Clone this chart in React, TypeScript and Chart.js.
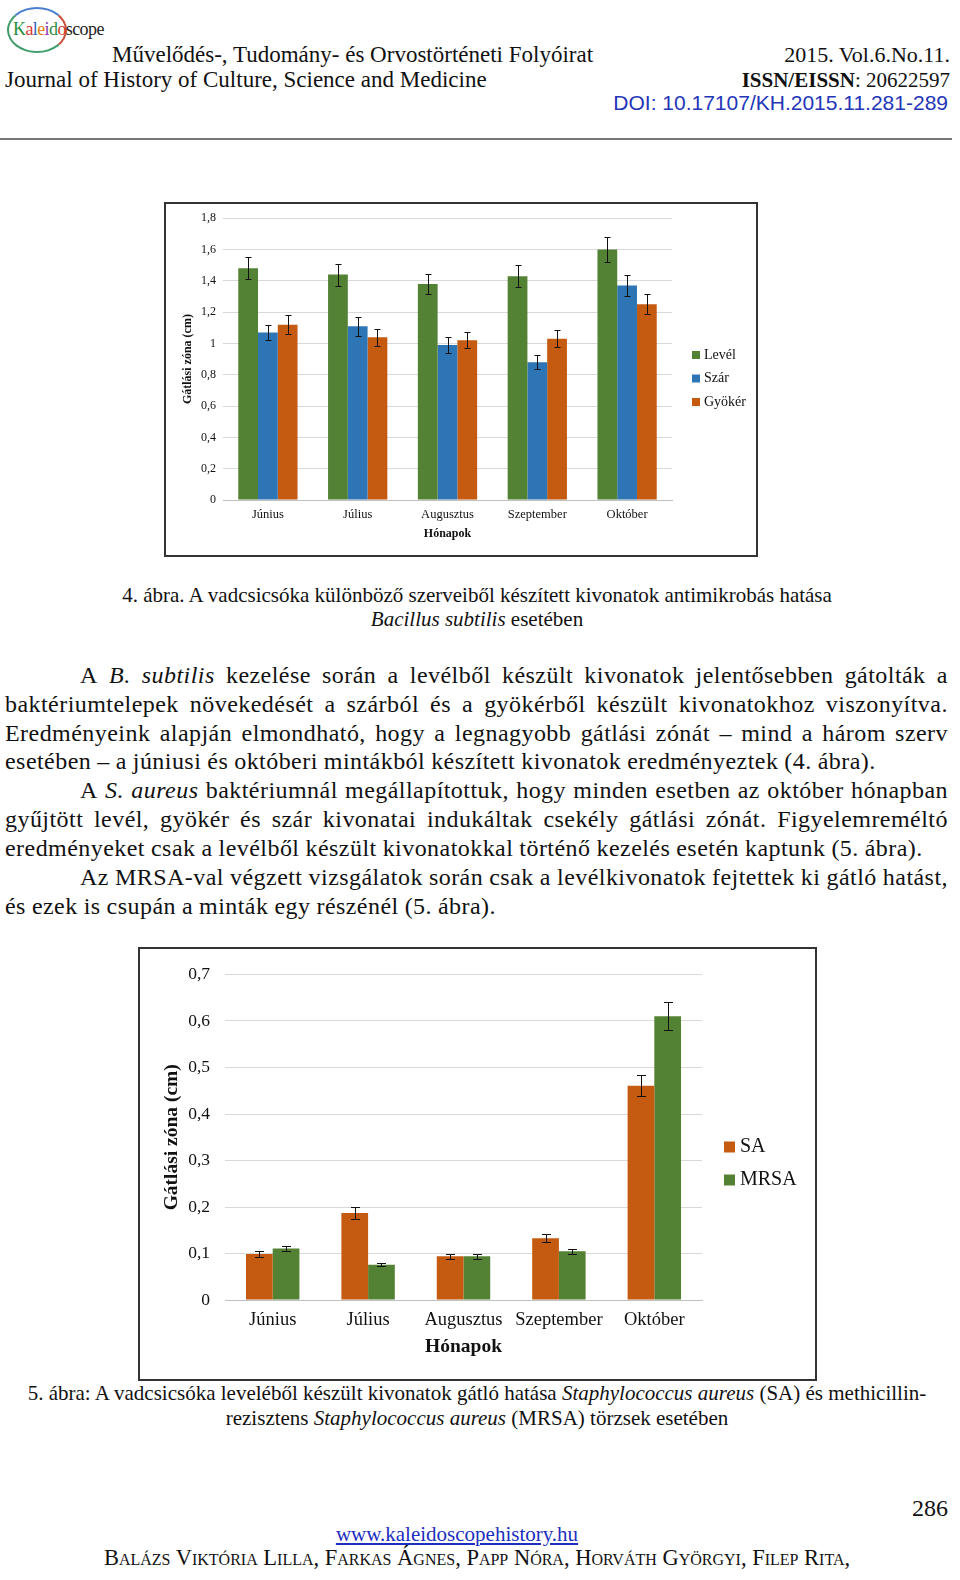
import { useEffect, useRef } from "react";
import { Chart, registerables } from "chart.js";

Chart.register(...registerables);

// --- data ---
const months = ["Június", "Július", "Augusztus", "Szeptember", "Október"];

// 4. ábra (Bacillus subtilis)
const level = [1.48, 1.44, 1.38, 1.43, 1.6];
const levelErr = [0.07, 0.07, 0.065, 0.07, 0.08];
const szar = [1.07, 1.11, 0.99, 0.88, 1.37];
const szarErr = [0.05, 0.06, 0.05, 0.045, 0.07];
const gyoker = [1.12, 1.04, 1.02, 1.03, 1.25];
const gyokerErr = [0.06, 0.055, 0.05, 0.055, 0.065];

// 5. ábra (SA / MRSA)
const sa = [0.099, 0.187, 0.094, 0.133, 0.461];
const saErr = [0.006, 0.012, 0.005, 0.008, 0.022];
const mrsa = [0.111, 0.076, 0.094, 0.105, 0.61];
const mrsaErr = [0.006, 0.003, 0.005, 0.005, 0.03];

const GREEN = "#548235";
const BLUE = "#2e75b6";
const ORANGE = "#c55a11";
const SERIF = "'Liberation Serif', 'Times New Roman', serif";

const comma = (v: number | string) =>
  String(Math.round(Number(v) * 10) / 10).replace(".", ",");

// error bars drawn on top of the bars
const errorBars = {
  id: "errorBars",
  afterDatasetsDraw(chart: any, _args: any, opts: any) {
    const { ctx } = chart;
    const y = chart.scales.y;
    ctx.save();
    ctx.strokeStyle = "#111";
    ctx.lineWidth = 1;
    chart.data.datasets.forEach((ds: any, i: number) => {
      const meta = chart.getDatasetMeta(i);
      meta.data.forEach((bar: any, j: number) => {
        const v = ds.data[j];
        const e = ds.errors[j];
        const top = Math.round(y.getPixelForValue(v + e)) + 0.5;
        const bot = Math.round(y.getPixelForValue(v - e)) + 0.5;
        const x = Math.round(bar.x) + 0.5;
        ctx.beginPath();
        ctx.moveTo(x, top);
        ctx.lineTo(x, bot);
        ctx.moveTo(x - opts.cap, top);
        ctx.lineTo(x + opts.cap, top);
        ctx.moveTo(x - opts.cap, bot);
        ctx.lineTo(x + opts.cap, bot);
        ctx.stroke();
      });
    });
    ctx.restore();
  },
};

// legend at the right, like the Excel original
const sideLegend = {
  id: "sideLegend",
  afterDraw(chart: any, _args: any, opts: any) {
    const { ctx } = chart;
    ctx.save();
    ctx.font = opts.font;
    ctx.textBaseline = "middle";
    chart.data.datasets.forEach((ds: any, i: number) => {
      const y = opts.y + i * opts.gap;
      ctx.fillStyle = ds.backgroundColor;
      ctx.fillRect(opts.x, y - opts.box / 2, opts.box, opts.box);
      ctx.fillStyle = "#111";
      ctx.fillText(ds.label, opts.x + opts.box + opts.space, y);
    });
    ctx.restore();
  },
};

function makeConfig(p: any): any {
  return {
    type: "bar",
    data: { labels: months, datasets: p.datasets },
    plugins: [errorBars, sideLegend],
    options: {
      responsive: false,
      animation: false,
      layout: { padding: { left: 0, top: p.top, right: p.right, bottom: 0 } },
      datasets: {
        bar: { barPercentage: 1, categoryPercentage: p.cat, borderWidth: 0 },
      },
      plugins: {
        legend: { display: false },
        tooltip: { enabled: false },
        errorBars: { cap: p.cap },
        sideLegend: p.legend,
      },
      scales: {
        x: {
          grid: { display: false, drawTicks: false },
          border: { display: true, color: "#bfbfbf" },
          ticks: {
            color: "#111",
            padding: p.xPad,
            font: { family: SERIF, size: p.tick },
          },
          title: {
            display: true,
            text: "Hónapok",
            color: "#111",
            padding: { top: 0, bottom: p.xTitlePad },
            font: { family: SERIF, size: p.title, weight: "bold" },
          },
          afterFit: (s: any) => {
            s.height = p.xHeight;
          },
        },
        y: {
          min: 0,
          max: p.max,
          grid: { color: "#d9d9d9", drawTicks: false },
          border: { display: false },
          ticks: {
            stepSize: p.step,
            color: "#111",
            padding: p.yPad,
            font: { family: SERIF, size: p.ytick },
            callback: (v: number) => comma(v),
          },
          title: {
            display: true,
            text: "Gátlási zóna (cm)",
            color: "#111",
            padding: { top: p.yTitlePad, bottom: 0 },
            font: { family: SERIF, size: p.title, weight: "bold" },
          },
          afterFit: (s: any) => {
            s.width = p.yWidth;
          },
        },
      },
    },
  };
}

function BarPanel({ width, height, config }: { width: number; height: number; config: any }) {
  const canvasRef = useRef<HTMLCanvasElement | null>(null);

  useEffect(() => {
    if (!canvasRef.current) return;
    const chart = new Chart(canvasRef.current, config);
    return () => chart.destroy();
  }, []);

  return (
    <canvas
      ref={canvasRef}
      width={width}
      height={height}
      style={{ width, height, display: "block" }}
    />
  );
}

function Txt(props: any) {
  const { x, y, w, align, size, lh, children, style } = props;
  const line = lh || size * 1.25;
  return (
    <div
      style={{
        position: "absolute",
        left: x,
        top: y - line / 2,
        width: w,
        textAlign: align || "left",
        fontSize: size,
        lineHeight: line + "px",
        fontFamily: SERIF,
        color: "#111",
        whiteSpace: "nowrap",
        ...style,
      }}
    >
      {children}
    </div>
  );
}

// one line of the body text; a word written as *word* is italic
function JLine({ x, y, text, last }: { x: number; y: number; text: string; last?: boolean }) {
  const words = text.split(" ");
  return (
    <div
      style={{
        position: "absolute",
        left: x,
        top: y - 15,
        width: 948 - x,
        height: 30,
        fontSize: 24,
        lineHeight: "30px",
        letterSpacing: 0.45,
        fontFamily: SERIF,
        color: "#111",
        whiteSpace: "nowrap",
        display: "flex",
        justifyContent: last ? "flex-start" : "space-between",
        gap: last ? "0.25em" : 0,
      }}
    >
      {words.map((w, i) =>
        w.startsWith("*") ? (
          <i key={i}>{w.replace(/\*/g, "")}</i>
        ) : (
          <span key={i}>{w}</span>
        )
      )}
    </div>
  );
}

const fig4 = makeConfig({
  datasets: [
    { label: "Levél", data: level, errors: levelErr, backgroundColor: GREEN },
    { label: "Szár", data: szar, errors: szarErr, backgroundColor: BLUE },
    { label: "Gyökér", data: gyoker, errors: gyokerErr, backgroundColor: ORANGE },
  ],
  top: 13,
  right: 84,
  cat: 0.66,
  cap: 3,
  max: 1.8,
  step: 0.2,
  tick: 12.5,
  ytick: 12,
  title: 12,
  xPad: 7,
  xTitlePad: 14,
  xHeight: 55,
  yPad: 7,
  yTitlePad: 15,
  yWidth: 57,
  legend: { x: 526, y: 151, gap: 23.5, box: 8, space: 4, font: `14px ${SERIF}` },
});

const fig5 = makeConfig({
  datasets: [
    { label: "SA", data: sa, errors: saErr, backgroundColor: ORANGE },
    { label: "MRSA", data: mrsa, errors: mrsaErr, backgroundColor: GREEN },
  ],
  top: 18,
  right: 113,
  cat: 0.56,
  cap: 4.5,
  max: 0.7,
  step: 0.1,
  tick: 18.5,
  ytick: 17.5,
  title: 19.5,
  xPad: 9,
  xTitlePad: 20,
  xHeight: 79,
  yPad: 15,
  yTitlePad: 20,
  yWidth: 85,
  legend: { x: 584, y: 198, gap: 33, box: 11, space: 5, font: `20px ${SERIF}` },
});

export default function App() {
  return (
    <div
      style={{
        position: "absolute",
        left: 0,
        top: 0,
        width: 960,
        height: 1580,
        overflow: "hidden",
        background: "#fff",
        fontFamily: SERIF,
      }}
    >
      {/* header */}
      <div
        style={{
          position: "absolute",
          left: 7,
          top: 7,
          width: 56,
          height: 42,
          borderRadius: "50%",
          border: "2px solid #3f9d6b",
          borderTopColor: "#4a7fd0",
          borderRightColor: "#c9513b",
        }}
      />
      <Txt x={13} y={29} size={18} style={{ letterSpacing: -0.6 }}>
        <span style={{ color: "#2a8f3a" }}>K</span>
        <span style={{ color: "#d13b2f" }}>a</span>
        <span style={{ color: "#2f5fc4" }}>l</span>
        <span style={{ color: "#e07b12" }}>e</span>
        <span style={{ color: "#8a3cb0" }}>i</span>
        <span style={{ color: "#2a8f3a" }}>d</span>
        <span style={{ color: "#d13b2f" }}>o</span>
        <span style={{ color: "#222" }}>scope</span>
      </Txt>
      <Txt x={112} y={55} size={23}>
        Művelődés-, Tudomány- és Orvostörténeti Folyóirat
      </Txt>
      <Txt x={5} y={80} size={23}>
        Journal of History of Culture, Science and Medicine
      </Txt>
      <Txt x={500} w={450} align="right" y={55} size={22}>
        2015. Vol.6.No.11.
      </Txt>
      <Txt x={500} w={450} align="right" y={80} size={21}>
        <b>ISSN/EISSN</b>: 20622597
      </Txt>
      <Txt
        x={500}
        w={448}
        align="right"
        y={103}
        size={21}
        style={{ fontFamily: "'Liberation Sans', Arial, sans-serif", color: "#2336b8" }}
      >
        DOI: 10.17107/KH.2015.11.281-289
      </Txt>
      <div
        style={{ position: "absolute", left: 0, top: 138, width: 952, height: 2, background: "#777" }}
      />

      {/* 4. ábra */}
      <div
        style={{ position: "absolute", left: 164, top: 202, border: "2px solid #333" }}
      >
        <BarPanel width={590} height={351} config={fig4} />
      </div>
      <Txt x={0} w={954} align="center" y={595} size={21}>
        4. ábra. A vadcsicsóka különböző szerveiből készített kivonatok antimikrobás hatása
      </Txt>
      <Txt x={0} w={954} align="center" y={619} size={21}>
        <i>Bacillus subtilis</i> esetében
      </Txt>

      {/* body text */}
      <JLine x={80} y={675} text="A *B.* *subtilis* kezelése során a levélből készült kivonatok jelentősebben gátolták a" />
      <JLine x={5} y={704} text="baktériumtelepek növekedését a szárból és a gyökérből készült kivonatokhoz viszonyítva." />
      <JLine x={5} y={733} text="Eredményeink alapján elmondható, hogy a legnagyobb gátlási zónát – mind a három szerv" />
      <JLine x={5} y={761} last text="esetében – a júniusi és októberi mintákból készített kivonatok eredményeztek (4. ábra)." />
      <JLine x={80} y={790} text="A *S.* *aureus* baktériumnál megállapítottuk, hogy minden esetben az október hónapban" />
      <JLine x={5} y={819} text="gyűjtött levél, gyökér és szár kivonatai indukáltak csekély gátlási zónát. Figyelemreméltó" />
      <JLine x={5} y={848} last text="eredményeket csak a levélből készült kivonatokkal történő kezelés esetén kaptunk (5. ábra)." />
      <JLine x={80} y={877} text="Az MRSA-val végzett vizsgálatok során csak a levélkivonatok fejtettek ki gátló hatást," />
      <JLine x={5} y={906} last text="és ezek is csupán a minták egy részénél (5. ábra)." />

      {/* 5. ábra */}
      <div
        style={{ position: "absolute", left: 138, top: 947, border: "2px solid #333" }}
      >
        <BarPanel width={675} height={430} config={fig5} />
      </div>
      <Txt x={0} w={954} align="center" y={1393} size={21}>
        5. ábra: A vadcsicsóka leveléből készült kivonatok gátló hatása{" "}
        <i>Staphylococcus aureus</i> (SA) és methicillin-
      </Txt>
      <Txt x={0} w={954} align="center" y={1418} size={21}>
        rezisztens <i>Staphylococcus aureus</i> (MRSA) törzsek esetében
      </Txt>

      {/* footer */}
      <Txt x={800} w={148} align="right" y={1508} size={24}>
        286
      </Txt>
      <Txt x={0} w={914} align="center" y={1534} size={21}>
        <span style={{ color: "#1c2fc0", textDecoration: "underline" }}>
          www.kaleidoscopehistory.hu
        </span>
      </Txt>
      <Txt x={0} w={954} align="center" y={1558} size={22.5} style={{ fontVariant: "small-caps" }}>
        Balázs Viktória Lilla, Farkas Ágnes, Papp Nóra, Horváth Györgyi, Filep Rita,
      </Txt>
    </div>
  );
}
